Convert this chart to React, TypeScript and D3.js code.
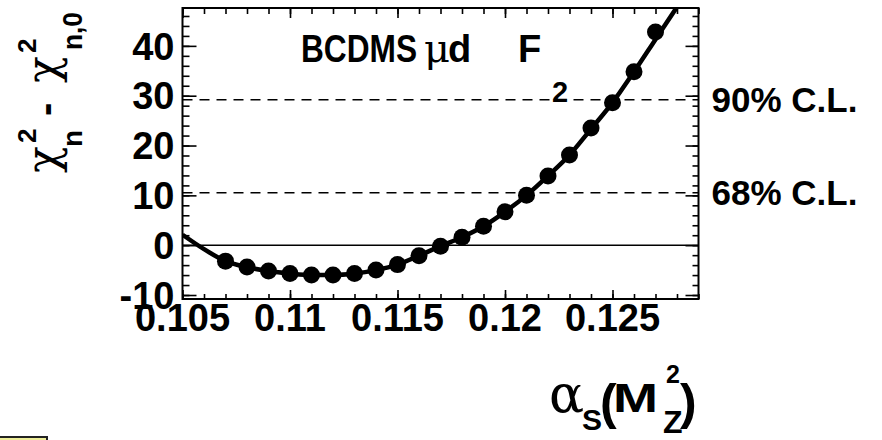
import { useEffect, useRef } from 'react';
import * as d3 from 'd3';

// scan points: alpha_s(M_Z^2) and chi2_n - chi2_n,0
const alphaS = [0.107, 0.108, 0.109, 0.110, 0.111, 0.112, 0.113, 0.114, 0.115, 0.116, 0.117,
  0.118, 0.119, 0.120, 0.121, 0.122, 0.123, 0.124, 0.125, 0.126, 0.127];
const deltaChi2 = [-3.2, -4.4, -5.2, -5.7, -6.0, -6.0, -5.7, -5.0, -3.9, -2.1, -0.2,
  1.6, 3.8, 6.7, 10.0, 13.9, 18.1, 23.5, 28.6, 34.8, 42.8];

// fitted curve
const fitAlpha = [0.105, 0.106, 0.107, 0.108, 0.109, 0.110, 0.111, 0.112, 0.113, 0.114, 0.115, 0.116,
  0.117, 0.118, 0.119, 0.120, 0.121, 0.122, 0.123, 0.124, 0.125, 0.126, 0.127, 0.128];
const fitChi2 = [2.1, -0.8, -3.2, -4.4, -5.2, -5.7, -6.0, -6.0, -5.7, -5.0, -3.9, -2.1,
  -0.2, 1.6, 3.8, 6.7, 10.0, 13.9, 18.1, 23.3, 28.6, 34.8, 41.3, 47.8];

const clValues = [29.2, 10.5];
const clLabels = ['90% C.L.', '68% C.L.'];

const xMajorTicks = [0.105, 0.11, 0.115, 0.12, 0.125];
const xTickLabels = ['0.105', '0.11', '0.115', '0.12', '0.125'];
const yMajorTicks = [-10, 0, 10, 20, 30, 40];
const yTickLabels = ['-10', '0', '10', '20', '30', '40'];

const SANS = "'Liberation Sans', Arial, Helvetica, sans-serif";
const GREEK = "'DejaVu Serif', 'Liberation Serif', serif";

const App = () => {
  const svgRef = useRef<SVGSVGElement>(null);

  useEffect(() => {
    const width = 882;
    const height = 440;
    const frame = { left: 182.5, right: 698.5, top: 8, bottom: 299 };

    d3.select(svgRef.current).selectAll('*').remove();
    const svg = d3.select(svgRef.current)
      .attr('width', width)
      .attr('height', height);

    svg.append('rect').attr('width', width).attr('height', height).attr('fill', '#fff');

    const x = d3.scaleLinear().domain([0.105, 0.129]).range([frame.left, frame.right]);
    const y = d3.scaleLinear().domain([-10.8, 47.6]).range([frame.bottom, frame.top]);

    const xMinor = d3.range(105, 130).map(d => d / 1000);
    const yMinor = d3.range(-10, 48, 2);

    // ticks on all four sides, pointing inward
    const tickAxis = (g, axis) => g.call(axis.tickFormat(() => ''))
      .call(s => s.select('.domain').remove())
      .call(s => s.selectAll('line').attr('stroke', '#000').attr('stroke-width', 1.6));

    const bottomG = svg.append('g').attr('transform', `translate(0,${frame.bottom})`);
    tickAxis(bottomG.append('g'), d3.axisBottom(x).tickValues(xMinor).tickSize(-5));
    tickAxis(bottomG.append('g'), d3.axisBottom(x).tickValues(xMajorTicks).tickSize(-9));
    const topG = svg.append('g').attr('transform', `translate(0,${frame.top})`);
    tickAxis(topG.append('g'), d3.axisTop(x).tickValues(xMinor).tickSize(-6));
    tickAxis(topG.append('g'), d3.axisTop(x).tickValues(xMajorTicks).tickSize(-10));
    const leftG = svg.append('g').attr('transform', `translate(${frame.left},0)`);
    tickAxis(leftG.append('g'), d3.axisLeft(y).tickValues(yMinor).tickSize(-7));
    tickAxis(leftG.append('g'), d3.axisLeft(y).tickValues(yMajorTicks).tickSize(-14));
    const rightG = svg.append('g').attr('transform', `translate(${frame.right},0)`);
    tickAxis(rightG.append('g'), d3.axisRight(y).tickValues(yMinor).tickSize(-6));
    tickAxis(rightG.append('g'), d3.axisRight(y).tickValues(yMajorTicks).tickSize(-13));

    // zero line and confidence level lines
    svg.append('line')
      .attr('x1', frame.left).attr('x2', frame.right)
      .attr('y1', y(0)).attr('y2', y(0))
      .attr('stroke', '#000').attr('stroke-width', 1.6);

    svg.append('g').selectAll('line')
      .data(clValues)
      .join('line')
      .attr('x1', frame.left).attr('x2', frame.right)
      .attr('y1', d => y(d)).attr('y2', d => y(d))
      .attr('stroke', '#000').attr('stroke-width', 1.5)
      .attr('stroke-dasharray', '10,7');

    svg.append('g').selectAll('text')
      .data(clValues)
      .join('text')
      .attr('x', frame.right + 13)
      .attr('y', d => y(d))
      .attr('dy', '0.36em')
      .attr('font-family', SANS).attr('font-weight', 'bold').attr('font-size', 35)
      .text((d, i) => clLabels[i]);

    // fit curve + points, clipped to the frame
    svg.append('clipPath').attr('id', 'plot-clip')
      .append('rect')
      .attr('x', frame.left).attr('y', frame.top)
      .attr('width', frame.right - frame.left).attr('height', frame.bottom - frame.top);

    const plot = svg.append('g').attr('clip-path', 'url(#plot-clip)');
    const fitLine = d3.line<number>()
      .x((d, i) => x(fitAlpha[i]))
      .y(d => y(d))
      .curve(d3.curveMonotoneX);
    plot.append('path')
      .attr('d', fitLine(fitChi2))
      .attr('fill', 'none')
      .attr('stroke', '#000')
      .attr('stroke-width', 4.5)
      .attr('stroke-linejoin', 'round');

    plot.append('g').selectAll('circle')
      .data(deltaChi2)
      .join('circle')
      .attr('cx', (d, i) => x(alphaS[i]))
      .attr('cy', d => y(d))
      .attr('r', 8.5)
      .attr('fill', '#000');

    // frame
    svg.append('rect')
      .attr('x', frame.left).attr('y', frame.top)
      .attr('width', frame.right - frame.left).attr('height', frame.bottom - frame.top)
      .attr('fill', 'none').attr('stroke', '#000').attr('stroke-width', 2);

    // tick labels
    svg.append('g').selectAll('text')
      .data(yMajorTicks)
      .join('text')
      .attr('x', frame.left - 8)
      .attr('y', d => y(d))
      .attr('dy', '0.36em')
      .attr('text-anchor', 'end')
      .attr('font-family', SANS).attr('font-weight', 'bold').attr('font-size', 38)
      .text((d, i) => yTickLabels[i]);

    svg.append('g').selectAll('text')
      .data(xMajorTicks)
      .join('text')
      .attr('x', d => x(d))
      .attr('y', 331)
      .attr('text-anchor', 'middle')
      .attr('font-family', SANS).attr('font-weight', 'bold').attr('font-size', 38)
      .text((d, i) => xTickLabels[i]);

    const put = (g, txt, px, py, size, family, weight, len?) => {
      const t = g.append('text')
        .attr('x', px).attr('y', py)
        .attr('font-family', family).attr('font-weight', weight).attr('font-size', size)
        .text(txt);
      if (len) t.attr('textLength', len).attr('lengthAdjust', 'spacingAndGlyphs');
      return t;
    };

    // title
    const title = svg.append('g');
    put(title, 'BCDMS', 301, 62, 38, SANS, 'bold', 116);
    put(title, 'μ', 424, 62, 40, GREEK, 'normal');
    put(title, 'd', 448, 62, 38, SANS, 'bold');
    put(title, 'F', 518, 62, 38, SANS, 'bold');
    put(title, '2', 552, 102, 29, SANS, 'bold');

    // y axis title (rotated)
    const yTitle = svg.append('g').attr('transform', 'rotate(-90)');
    put(yTitle, 'χ', -173, 58, 44, GREEK, 'normal');
    put(yTitle, '2', -143, 36, 26, SANS, 'bold');
    put(yTitle, 'n', -147, 82, 28, SANS, 'bold');
    put(yTitle, '-', -116, 59, 40, SANS, 'bold');
    put(yTitle, 'χ', -83, 58, 44, GREEK, 'normal');
    put(yTitle, '2', -53, 36, 26, SANS, 'bold');
    put(yTitle, 'n,0', -50, 82, 28, SANS, 'bold', 38);

    // x axis title
    const xTitle = svg.append('g');
    put(xTitle, 'α', 549, 412, 52, GREEK, 'normal');
    put(xTitle, 'S', 582, 430, 30, SANS, 'bold');
    put(xTitle, '(', 600, 419, 50, SANS, 'bold');
    put(xTitle, 'M', 613, 412, 40, SANS, 'bold', 45);
    put(xTitle, '2', 666, 383, 25, SANS, 'bold');
    put(xTitle, 'Z', 663, 433, 32, SANS, 'bold');
    put(xTitle, ')', 680, 419, 50, SANS, 'bold');

    // small yellow box at the bottom-left corner
    svg.append('rect')
      .attr('x', -2).attr('y', 437)
      .attr('width', 49).attr('height', 10)
      .attr('fill', '#eeee99').attr('stroke', '#222').attr('stroke-width', 2);
  }, []);

  return (
    <svg ref={svgRef} style={{ position: 'absolute', left: 0, top: 0, display: 'block' }} />
  );
};

export default App;
